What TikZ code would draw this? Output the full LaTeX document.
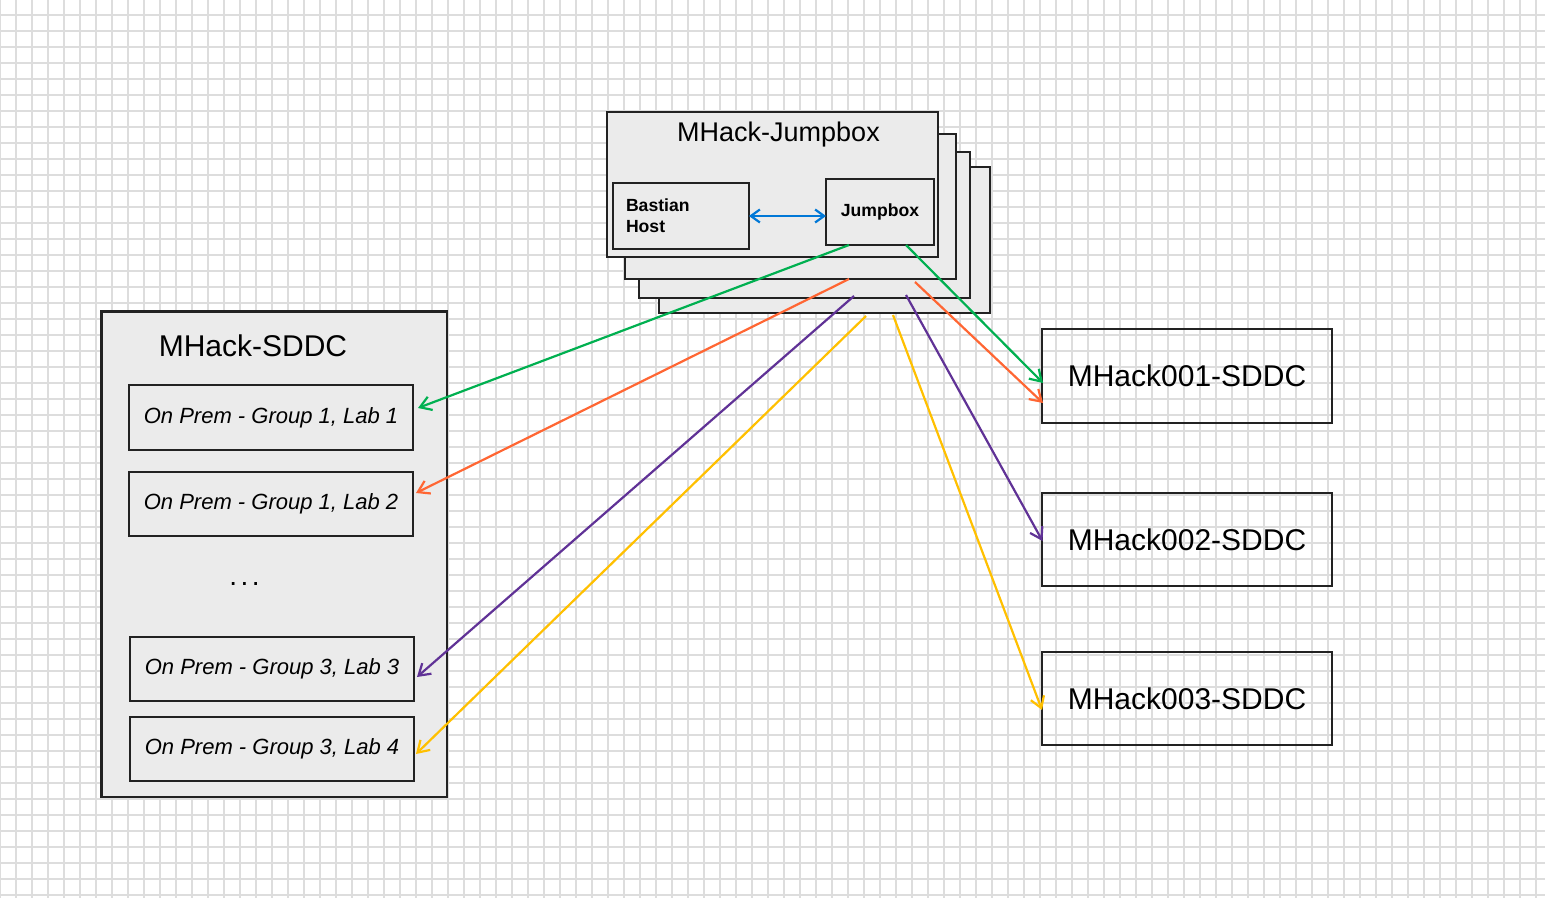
\documentclass[tikz,border=0pt]{standalone}
\usepackage{fontspec}
\setmainfont{Liberation Sans}
\usetikzlibrary{arrows.meta,calc}
\definecolor{gridc}{RGB}{221,221,221}
\definecolor{boxfill}{RGB}{235,235,235}
\definecolor{boxline}{RGB}{34,34,34}
\definecolor{cgreen}{RGB}{0,176,80}
\definecolor{corange}{RGB}{255,102,51}
\definecolor{cpurple}{RGB}{96,50,150}
\definecolor{cyellow}{RGB}{255,192,0}
\definecolor{cblue}{RGB}{0,120,215}
\def\pxu{0.75pt}
\begin{document}
\begin{tikzpicture}[x=0.75pt,y=-0.75pt,
  box/.style={draw=boxline, fill=boxfill, line width=2.4*\pxu, rectangle, outer sep=0pt, inner sep=0pt},
  plainbox/.style={draw=boxline, line width=2.4*\pxu, rectangle, outer sep=0pt, inner sep=0pt},
  gridline/.style={draw=gridc, line width=1.4*\pxu},
  arr/.style={line width=2.2*\pxu, -{Straight Barb[length=11*\pxu, width=14*\pxu, line width=2.2*\pxu]}},
  dblarr/.style={line width=2.2*\pxu, {Straight Barb[length=9*\pxu, width=13*\pxu, line width=2.2*\pxu]}-{Straight Barb[length=9*\pxu, width=13*\pxu, line width=2.2*\pxu]}},
  handbig/.style={font=\fontsize{22.5pt}{27pt}\selectfont},
  handmid/.style={font=\fontsize{20.25pt}{24pt}\selectfont},
  labfont/.style={font=\itshape\fontsize{16.5pt}{20pt}\selectfont},
  boldfont/.style={font=\bfseries\fontsize{13.2pt}{15.5pt}\selectfont},
]
% background and grid
\useasboundingbox (0,0) rectangle (1545,898);
\fill[white] (0,0) rectangle (1545,898);
\foreach \i in {0,...,96} \draw[gridline] (16*\i,0) -- (16*\i,898);
\foreach \j in {1,...,56} \draw[gridline] (0,16*\j-1) -- (1545,16*\j-1);

% jumpbox stack
\node[box, minimum width=331*\pxu, minimum height=146*\pxu] (jb4) at (824.5,240) {};
\node[box, minimum width=331*\pxu, minimum height=146*\pxu] (jb3) at (804.5,225) {};
\node[box, minimum width=331*\pxu, minimum height=145*\pxu] (jb2) at (790.5,206.5) {};
\node[box, minimum width=331*\pxu, minimum height=145*\pxu] (jb1) at (772.5,184.5) {};
\node[handmid, anchor=base] (tjb) at (778.5,142) {MHack-Jumpbox};
\node[box, boldfont, minimum width=136*\pxu, minimum height=66*\pxu, text width=110*\pxu, align=left] (bast) at (681,216) {Bastian\\Host};
\node[box, boldfont, minimum width=108*\pxu, minimum height=66*\pxu] (jbin) at (880,212) {Jumpbox};
\draw[dblarr, cblue] (bast.east) -- (bast.east -| jbin.west);

% MHack-SDDC container
\node[box, minimum width=345.5*\pxu, minimum height=485.5*\pxu] (sddc) at (274.25,554.25) {};
\node[handbig, anchor=base] (tsddc) at (253,357) {MHack-SDDC};
\node[box, labfont, minimum width=284*\pxu, minimum height=65*\pxu] (lab1) at (271,417.5) {On Prem - Group 1, Lab 1};
\node[box, labfont, minimum width=284*\pxu, minimum height=64*\pxu] (lab2) at (271,504) {On Prem - Group 1, Lab 2};
\node[font=\fontsize{21pt}{24pt}\selectfont, anchor=base] (dots) at (244.5,585) {.\kern2.6pt.\kern2.6pt.};
\node[box, labfont, minimum width=284*\pxu, minimum height=64*\pxu] (lab3) at (272,669) {On Prem - Group 3, Lab 3};
\node[box, labfont, minimum width=284*\pxu, minimum height=64*\pxu] (lab4) at (272,749) {On Prem - Group 3, Lab 4};

% right SDDC boxes
\node[plainbox, handbig, minimum width=290*\pxu, minimum height=94*\pxu] (m1) at (1187,376) {MHack001-SDDC};
\node[plainbox, handbig, minimum width=290*\pxu, minimum height=93*\pxu] (m2) at (1187,539.5) {MHack002-SDDC};
\node[plainbox, handbig, minimum width=290*\pxu, minimum height=93*\pxu] (m3) at (1187,698.5) {MHack003-SDDC};

% connectors
\draw[arr, cgreen]  ($(jbin.south west)+(23,0)$) -- ($(lab1.east)+(5,-9.5)$);
\draw[arr, cgreen]  ($(jbin.south west)+(80,0)$) -- ($(m1.west)+(1,7)$);
\draw[arr, corange] ($(jb2.south west)+(224,0)$) -- ($(lab2.east)+(3,-11)$);
\draw[arr, corange] ($(jb2.south west)+(290,3)$) -- ($(m1.west)+(1,27)$);
\draw[arr, cpurple] ($(jb3.south west)+(215,-2)$) -- ($(lab3.east)+(3,8)$);
\draw[arr, cpurple] ($(jb3.south west)+(267,-3)$) -- ($(m2.west)+(0.5,1.5)$);
\draw[arr, cyellow] ($(jb4.south west)+(207,3)$) -- ($(lab4.east)+(2,5)$);
\draw[arr, cyellow] ($(jb4.south west)+(234,2)$) -- ($(m3.west)+(0,11.5)$);
\end{tikzpicture}
\end{document}
